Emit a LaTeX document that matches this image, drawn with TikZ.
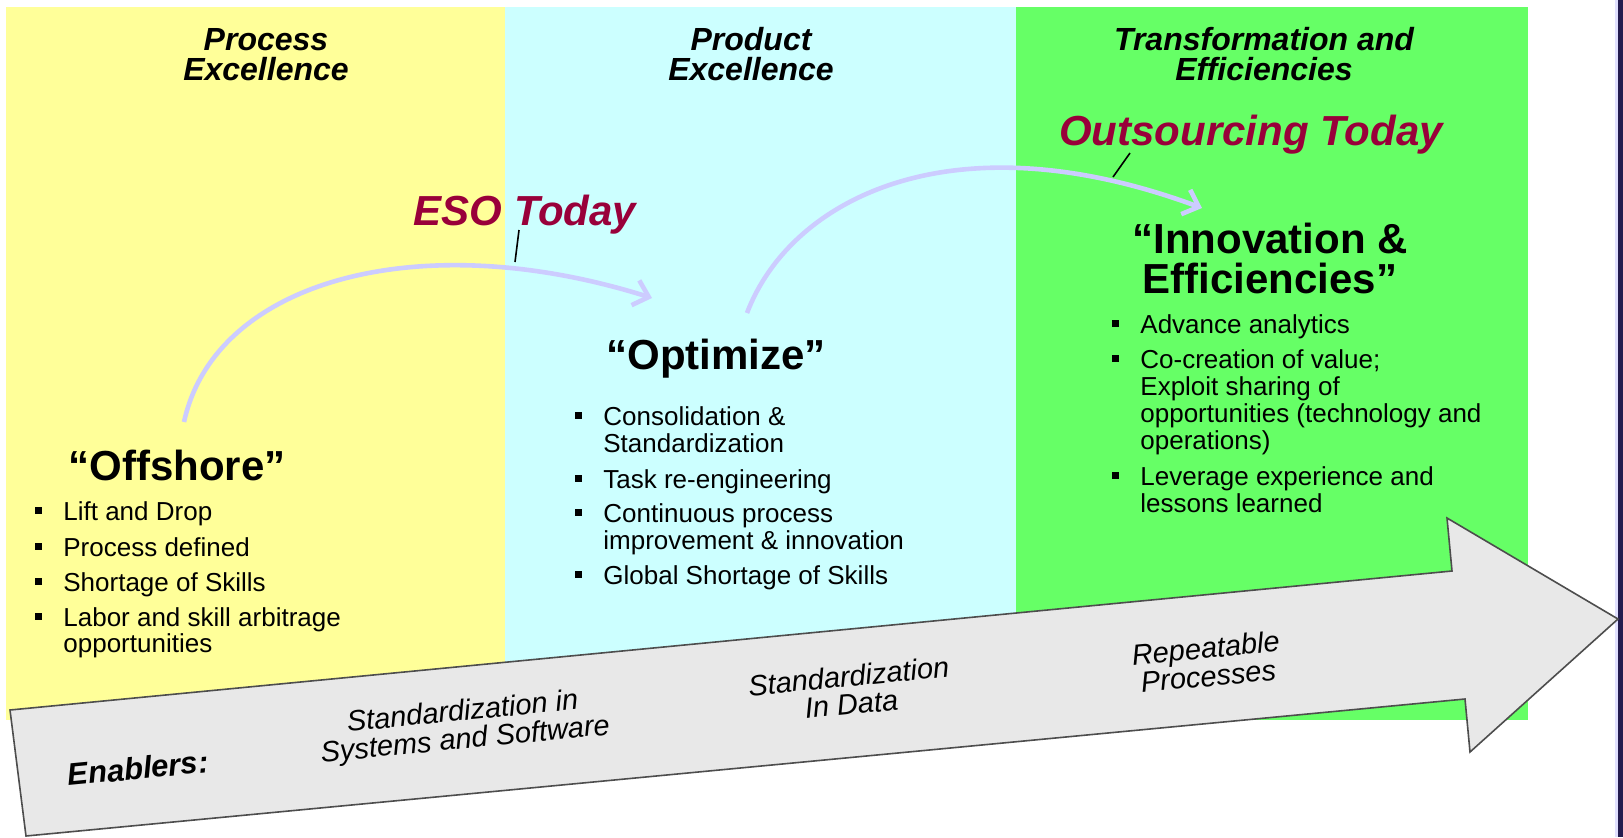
\documentclass[tikz,border=0pt]{standalone}
\usepackage{fontspec}
\setmainfont{Liberation Sans}
\usetikzlibrary{arrows.meta}
\definecolor{procyellow}{HTML}{FFFF99}
\definecolor{prodcyan}{HTML}{CCFFFF}
\definecolor{transgreen}{HTML}{66FF66}
\definecolor{todayred}{HTML}{99003A}
\definecolor{jumplav}{HTML}{CCCCFF}
\definecolor{enablergray}{HTML}{E8E8E8}
\definecolor{edgegray}{HTML}{4D4D4D}
\definecolor{slideblue}{HTML}{231C4F}
\tikzset{>=latex}

\begin{document}
\begin{tikzpicture}[x=0.5pt,y=-0.5pt,
    head/.style={font=\fontsize{16}{15}\selectfont\bfseries\itshape,align=center,inner sep=0pt},
    today/.style={font=\fontsize{21}{21}\selectfont\bfseries\itshape,text=todayred,inner sep=0pt,anchor=base},
    stage/.style={font=\fontsize{21}{20}\selectfont\bfseries,align=center,inner sep=0pt},
    item/.style={font=\fontsize{13}{13}\selectfont,anchor=base west,inner sep=0pt},
    bsq/.style={fill=black,minimum size=3.5pt,inner sep=0pt},
    enabler/.style={font=\fontsize{14.5}{14}\selectfont\itshape,align=center,rotate=5.5,inner sep=0pt},
    jump/.style={jumplav,line width=2.3pt,-{Straight Barb[length=7pt,width=13pt]}},
    leader/.style={line width=0.8pt}]
    \useasboundingbox (0,0) rectangle (1623,837);
    \fill[white] (0,0) rectangle (1623,837);
    % the three stages
    \fill[procyellow] (6,7) rectangle (505,720);
    \fill[prodcyan] (505,7) rectangle (1016,720);
    \fill[transgreen] (1016,7) rectangle (1528,720);
    \fill[jumplav!60] (1615,0) rectangle (1618,837);
    \fill[slideblue] (1618,0) rectangle (1623,837);

    \node[head] (prochead) at (266,54.5) {Process\\Excellence};
    \node[head] (prodhead) at (751,54.5) {Product\\Excellence};
    \node[head] (transhead) at (1264,54.5) {Transformation and\\Efficiencies};

    \node[stage,anchor=base] (offshore) at (177,480) {“Offshore”};
    \node[stage,anchor=base] (optimize) at (716,369) {“Optimize”};
    \node[stage] (innov) at (1270,258.5) {“Innovation \&\\Efficiencies”};

    % jumps between the stages
    \coordinate (j1s) at (184,422);
    \coordinate (j1e) at (652,298);
    \coordinate (j2s) at (747,313);
    \coordinate (j2e) at (1202,208);
    \draw[jump] (j1s) .. controls (215,280) and (420,225) .. (j1e);
    \draw[jump] (j2s) .. controls (790,200) and (950,115) .. (j2e);

    \node[today] (eso) at (525,225) {ESO Today};
    \node[today] (outs) at (1251,145) {Outsourcing Today};
    \coordinate (esol) at (515,262);
    \coordinate (outsl) at (1113,177);
    \draw[leader] (eso.base) ++(-6,5) -- (esol);
    \draw[leader] (outs.base) ++(-121,8) -- (outsl);

    % bullet lists
    \foreach \n/\y/\t in {1/520/Lift and Drop,2/556/Process defined,3/591/Shortage of Skills,4/626/Labor and skill arbitrage}{
      \node[item] (off\n) at (63,\y) {\t};
      \node[bsq] (offb\n) at (38.5,\y-9.5) {};
    }
    \node[item] (off5) at (63,652) {opportunities};

    \foreach \n/\y/\t in {1/425/Consolidation \&,2/488/Task re-engineering,3/522/Continuous process,4/584/Global Shortage of Skills}{
      \node[item] (opt\n) at (603,\y) {\t};
      \node[bsq] (optb\n) at (578.5,\y-9.5) {};
    }
    \node[item] (opt5) at (603,452) {Standardization};
    \node[item] (opt6) at (603,549) {improvement \& innovation};

    \foreach \n/\y/\t in {1/333/Advance analytics,2/368/Co-creation of value;,3/485/Leverage experience and}{
      \node[item] (inn\n) at (1140,\y) {\t};
      \node[bsq] (innb\n) at (1115.5,\y-9.5) {};
    }
    \node[item] (inn4) at (1140,395) {Exploit sharing of};
    \node[item] (inn5) at (1140,422) {opportunities (technology and};
    \node[item] (inn6) at (1140,449) {operations)};
    \node[item] (inn7) at (1140,512) {lessons learned};

    % enablers arrow
    \draw[fill=enablergray,draw=edgegray,line width=0.8pt] (10,710) -- (1452,571) -- (1447,518)
      -- (1618,619) -- (1470,752) -- (1465,699) -- (26,836) -- cycle;
    \node[enabler,font=\fontsize{15.5}{15}\selectfont\bfseries\itshape] (enab) at (138,768) {Enablers:};
    \node[enabler] (ensys) at (464,727) {Standardization in\\Systems and Software};
    \node[enabler] (endata) at (850,690) {Standardization\\In Data};
    \node[enabler] (enrep) at (1207,662) {Repeatable\\Processes};
\end{tikzpicture}
\end{document}
